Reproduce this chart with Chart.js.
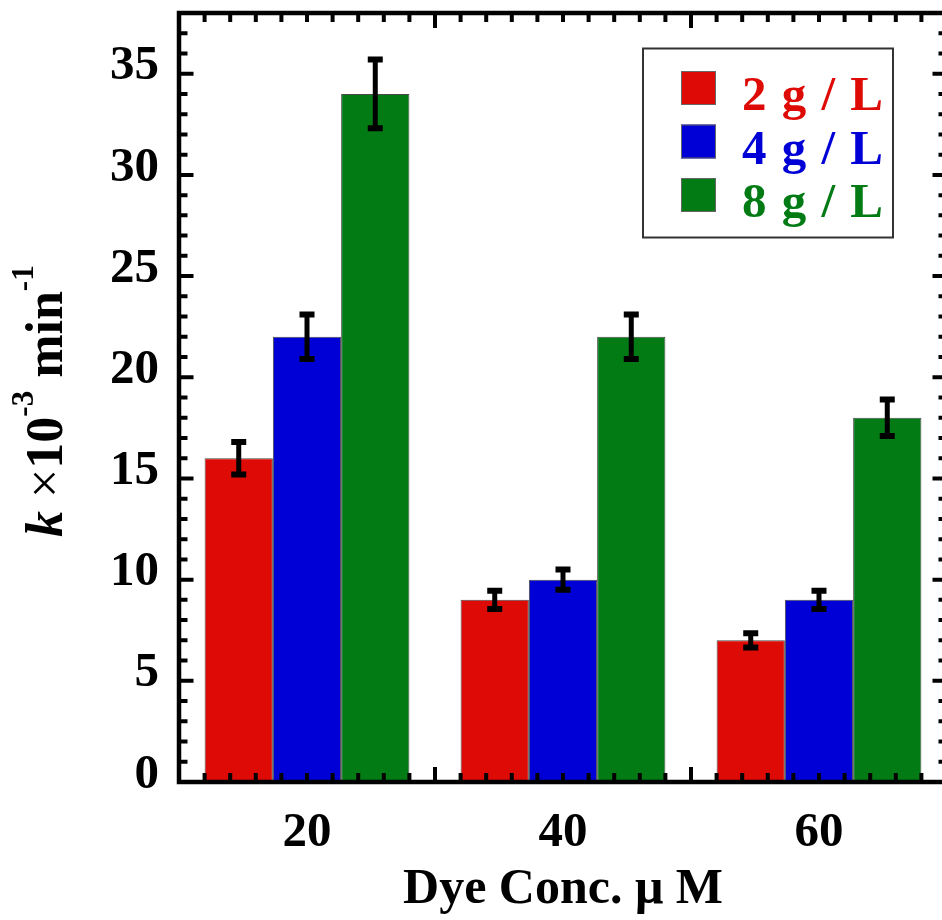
<!DOCTYPE html>
<html>
<head>
<meta charset="utf-8">
<script src="https://cdn.jsdelivr.net/npm/chart.js@4.4.0/dist/chart.umd.min.js"></script>
<style>
  html, body { margin: 0; padding: 0; background: #fff; overflow: hidden; }
  #wrap { position: absolute; left: 0; top: 0; width: 960px; height: 920px; }
</style>
</head>
<body>
<div id="wrap"><canvas id="bars" width="960" height="920"></canvas></div>
<script>
// dye concentration (uM) on x, rate constant k (x10^-3 min^-1) on y
var concentrations = [20, 40, 60];
var doseLabels = ['2 g / L', '4 g / L', '8 g / L'];
var k2 = [16, 9, 7];
var k4 = [22, 10, 9];
var k8 = [34, 22, 18];
var err2 = [0.8, 0.45, 0.35];
var err4 = [1.1, 0.5, 0.45];
var err8 = [1.7, 1.1, 0.9];
var yLabelEvery = 5;

var SERIF = '"Liberation Serif", "Times New Roman", serif';
var colors = ['#dd0a06', '#0000d6', '#037b15'];

function points(values) {
    return values.map(function (v, i) { return { x: concentrations[i], y: v }; });
}

// axis frame with inward ticks, error bars, legend box and y title
var decorations = {
    id: 'decorations',
    afterDatasetsDraw: function (chart) {
        var ctx = chart.ctx;
        var ys = chart.scales.y;
        ctx.save();
        ctx.strokeStyle = '#000';
        chart.data.datasets.forEach(function (ds, i) {
            chart.getDatasetMeta(i).data.forEach(function (bar, j) {
                var v = ds.data[j].y, e = ds.errors[j];
                var top = ys.getPixelForValue(v + e);
                var bot = ys.getPixelForValue(v - e);
                ctx.lineWidth = 5;
                ctx.beginPath();
                ctx.moveTo(bar.x, top);
                ctx.lineTo(bar.x, bot);
                ctx.stroke();
                ctx.lineWidth = 6;
                ctx.beginPath();
                ctx.moveTo(bar.x - 7.5, top);
                ctx.lineTo(bar.x + 7.5, top);
                ctx.moveTo(bar.x - 7.5, bot);
                ctx.lineTo(bar.x + 7.5, bot);
                ctx.stroke();
            });
        });
        ctx.restore();
    },
    afterDraw: function (chart) {
        var ctx = chart.ctx;
        var a = chart.chartArea;
        var xs = chart.scales.x, ys = chart.scales.y;
        ctx.save();
        ctx.strokeStyle = '#000';

        // frame
        ctx.lineWidth = 4.5;
        ctx.strokeRect(a.left, a.top, a.right - a.left, a.bottom - a.top);

        // x ticks every 2, long ones at 10, 30, 50, 70
        ctx.lineWidth = 4;
        ctx.beginPath();
        for (var v = xs.min + 2; v < xs.max; v += 2) {
            var px = xs.getPixelForValue(v);
            var len = (v % 20 === 10) ? 15 : 9;
            ctx.moveTo(px, a.bottom);
            ctx.lineTo(px, a.bottom - len);
            ctx.moveTo(px, a.top);
            ctx.lineTo(px, a.top + len);
        }
        // y ticks every 1, long ones every 5
        ys.ticks.forEach(function (t) {
            if (t.value <= ys.min || t.value >= ys.max) return;
            var py = ys.getPixelForValue(t.value);
            var len = (t.value % yLabelEvery === 0) ? 14.5 : 8.5;
            ctx.moveTo(a.left, py);
            ctx.lineTo(a.left + len, py);
            ctx.moveTo(a.right, py);
            ctx.lineTo(a.right - len, py);
        });
        ctx.stroke();

        // legend
        ctx.lineWidth = 2;
        ctx.strokeStyle = '#333';
        ctx.strokeRect(643, 48.5, 250, 189);
        ctx.font = 'bold 49px ' + SERIF;
        ctx.letterSpacing = '1.5px';
        ctx.textBaseline = 'alphabetic';
        ctx.textAlign = 'left';
        chart.data.datasets.forEach(function (ds, i) {
            var y0 = 71 + i * 53.5;
            ctx.fillStyle = ds.backgroundColor;
            ctx.fillRect(681, y0, 35, 34);
            ctx.lineWidth = 1;
            ctx.strokeStyle = '#666';
            ctx.strokeRect(681.5, y0 + 0.5, 34, 33);
            ctx.fillText(ds.label, 742, y0 + 39);
        });
        ctx.letterSpacing = '0px';

        // y title: k x10^-3 min^-1, rotated
        ctx.translate(62, 537);
        ctx.rotate(-Math.PI / 2);
        ctx.fillStyle = '#000';
        var x = 0;
        var parts = [
            ['italic bold 52px ', 'k', 0],
            ['bold 52px ', ' ', 0],
            ['52px ', '\u00d7', 0],
            ['bold 52px ', '10', 0],
            ['bold 31px ', '-3', -29],
            ['bold 52px ', ' min', 0],
            ['bold 31px ', '-1', -29]
        ];
        parts.forEach(function (p) {
            ctx.font = p[0] + SERIF;
            ctx.fillText(p[1], x, p[2]);
            x += ctx.measureText(p[1]).width;
        });
        ctx.restore();
    }
};

var ctx1 = document.getElementById('bars').getContext('2d');
var chart1 = new Chart(ctx1, {
    type: 'bar',
    data: {
        datasets: [
            { label: doseLabels[0], data: points(k2), errors: err2, backgroundColor: colors[0] },
            { label: doseLabels[1], data: points(k4), errors: err4, backgroundColor: colors[1] },
            { label: doseLabels[2], data: points(k8), errors: err8, backgroundColor: colors[2] }
        ]
    },
    options: {
        responsive: false,
        animation: false,
        devicePixelRatio: 1,
        layout: { padding: { top: 13, right: 13, left: 0, bottom: 0 } },
        datasets: {
            bar: {
                categoryPercentage: 0.8,
                barPercentage: 1.0,
                borderWidth: 1,
                borderColor: '#4a4a4a'
            }
        },
        plugins: {
            legend: { display: false },
            tooltip: { enabled: false }
        },
        scales: {
            x: {
                type: 'linear',
                min: 10,
                max: 70,
                offset: false,
                grid: { display: false, drawTicks: false, offset: false },
                border: { display: false },
                afterBuildTicks: function (scale) {
                    scale.ticks = concentrations.map(function (c) { return { value: c }; });
                },
                afterFit: function (scale) {
                    scale.height = 138;
                    scale.paddingLeft = 0;
                    scale.paddingRight = 0;
                },
                ticks: {
                    color: '#000',
                    padding: 22,
                    maxRotation: 0,
                    autoSkip: false,
                    font: { family: SERIF, size: 49, weight: 'bold' }
                },
                title: {
                    display: true,
                    text: 'Dye Conc. \u03bc M',
                    color: '#000',
                    padding: { top: 0, bottom: 0 },
                    font: { family: SERIF, size: 50, weight: 'bold' }
                }
            },
            y: {
                min: 0,
                max: 38,
                grid: { display: false, drawTicks: false },
                border: { display: false },
                afterFit: function (scale) {
                    scale.width = 179;
                    scale.paddingTop = 0;
                    scale.paddingBottom = 0;
                },
                ticks: {
                    stepSize: 1,
                    autoSkip: false,
                    color: '#000',
                    padding: 20,
                    labelOffset: -7,
                    font: { family: SERIF, size: 49, weight: 'bold' },
                    callback: function (v) { return v % yLabelEvery === 0 ? v : ''; }
                }
            }
        }
    },
    plugins: [decorations]
});
</script>
</body>
</html>
